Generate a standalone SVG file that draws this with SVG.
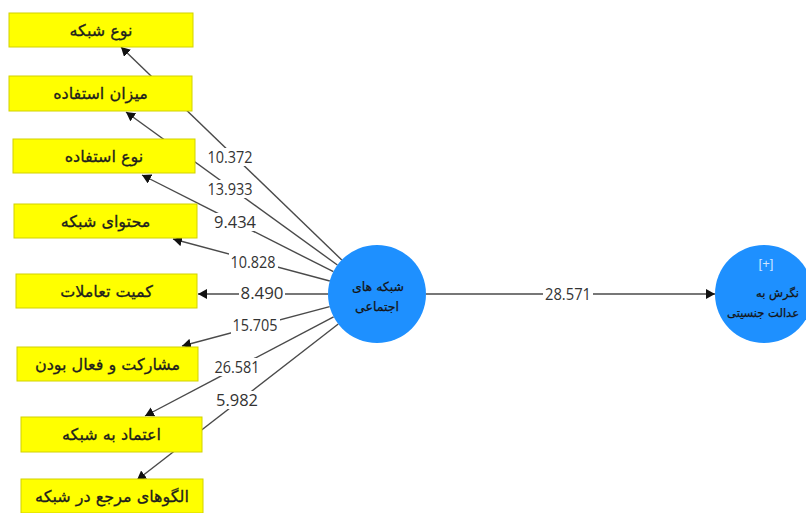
<svg xmlns="http://www.w3.org/2000/svg" width="806" height="513" viewBox="0 0 806 513">
<defs>
<marker id="arr" markerUnits="userSpaceOnUse" markerWidth="10" markerHeight="10" refX="9" refY="5" orient="auto">
<path d="M0,0 L9,5 L0,10 z" fill="#111"/>
</marker>
<style>
.c{stroke:#4a4a4a;stroke-width:1.4;fill:none;marker-end:url(#arr)}
.box rect{fill:#ffff00;stroke:#d2d200;stroke-width:1}
.box text{font-family:"DejaVu Sans",sans-serif;font-size:16px;fill:#1e1e1e;stroke:#1e1e1e;stroke-width:0.3;text-anchor:middle}
.lbl rect{fill:#fff}
.lbl text{font-family:"Open Sans","Liberation Sans",sans-serif;font-size:16px;fill:#333;text-anchor:middle}
.lv circle{fill:#1e90ff}
.lv text{font-family:"DejaVu Sans",sans-serif;font-size:12.5px;fill:#141414;stroke:#141414;stroke-width:0.25;text-anchor:middle}
</style>
</defs>
<rect width="806" height="513" fill="#fff"/>
<g id="connectors">
<line class="c" x1="341.8" y1="260" x2="121" y2="47"/>
<line class="c" x1="337.4" y1="265" x2="126" y2="112"/>
<line class="c" x1="333.4" y1="271.7" x2="142" y2="175"/>
<line class="c" x1="329.8" y1="281" x2="173" y2="239"/>
<line class="c" x1="328" y1="294" x2="198" y2="294"/>
<line class="c" x1="329.7" y1="306.6" x2="182" y2="346"/>
<line class="c" x1="333.6" y1="316.8" x2="145" y2="416"/>
<line class="c" x1="338.3" y1="324" x2="137" y2="480"/>
<line class="c" x1="426" y1="294" x2="715" y2="294"/>
</g>
<g id="labels" class="lbl">
<rect x="206" y="148" width="49" height="18"/><text x="230" y="163" textLength="45" lengthAdjust="spacingAndGlyphs">10.372</text>
<rect x="206" y="180" width="49" height="18"/><text x="230" y="195" textLength="45" lengthAdjust="spacingAndGlyphs">13.933</text>
<rect x="212" y="213" width="46" height="18"/><text x="235" y="228" textLength="42" lengthAdjust="spacingAndGlyphs">9.434</text>
<rect x="229" y="253" width="49" height="18"/><text x="253" y="268" textLength="45" lengthAdjust="spacingAndGlyphs">10.828</text>
<rect x="239" y="284" width="46" height="18"/><text x="262" y="299" textLength="43" lengthAdjust="spacingAndGlyphs">8.490</text>
<rect x="231" y="316" width="49" height="18"/><text x="255" y="331" textLength="45" lengthAdjust="spacingAndGlyphs">15.705</text>
<rect x="213" y="358" width="49" height="18"/><text x="237" y="373" textLength="45" lengthAdjust="spacingAndGlyphs">26.581</text>
<rect x="214" y="391" width="46" height="18"/><text x="237" y="406" textLength="42" lengthAdjust="spacingAndGlyphs">5.982</text>
<rect x="543" y="285" width="50" height="18"/><text x="568" y="300" textLength="46" lengthAdjust="spacingAndGlyphs">28.571</text>
</g>
<g id="n1" class="box"><rect x="9" y="13" width="184" height="34"/><text x="101" y="36">نوع شبکه</text></g>
<g id="n2" class="box"><rect x="9" y="76" width="183" height="35"/><text x="100.5" y="99">میزان استفاده</text></g>
<g id="n3" class="box"><rect x="13" y="139" width="182" height="34"/><text x="104" y="162">نوع استفاده</text></g>
<g id="n4" class="box"><rect x="14" y="204" width="183" height="34"/><text x="105.5" y="227">محتوای شبکه</text></g>
<g id="n5" class="box"><rect x="16" y="274" width="181" height="34"/><text x="106.5" y="297">کمیت تعاملات</text></g>
<g id="n6" class="box"><rect x="17" y="347" width="181" height="34"/><text x="107.5" y="370">مشارکت و فعال بودن</text></g>
<g id="n7" class="box"><rect x="21" y="417" width="181" height="35"/><text x="111.5" y="440">اعتماد به شبکه</text></g>
<g id="n8" class="box"><rect x="21" y="479" width="182" height="34"/><text x="112" y="502">الگوهای مرجع در شبکه</text></g>
<g id="social" class="lv"><circle cx="377" cy="294" r="49"/><text x="378" y="291">شبکه های</text><text x="377" y="311">اجتماعی</text></g>
<g id="attitude" class="lv"><circle cx="764" cy="294" r="49"/><text x="766" y="268" style="fill:#cfe4ff;stroke:none;font-family:'Liberation Sans',sans-serif;font-size:13px">[+]</text><text x="799" y="297" style="text-anchor:end;font-size:11.5px">نگرش به</text><text x="799" y="317" style="text-anchor:end;font-size:11.5px">عدالت جنسیتی</text></g>
</svg>
